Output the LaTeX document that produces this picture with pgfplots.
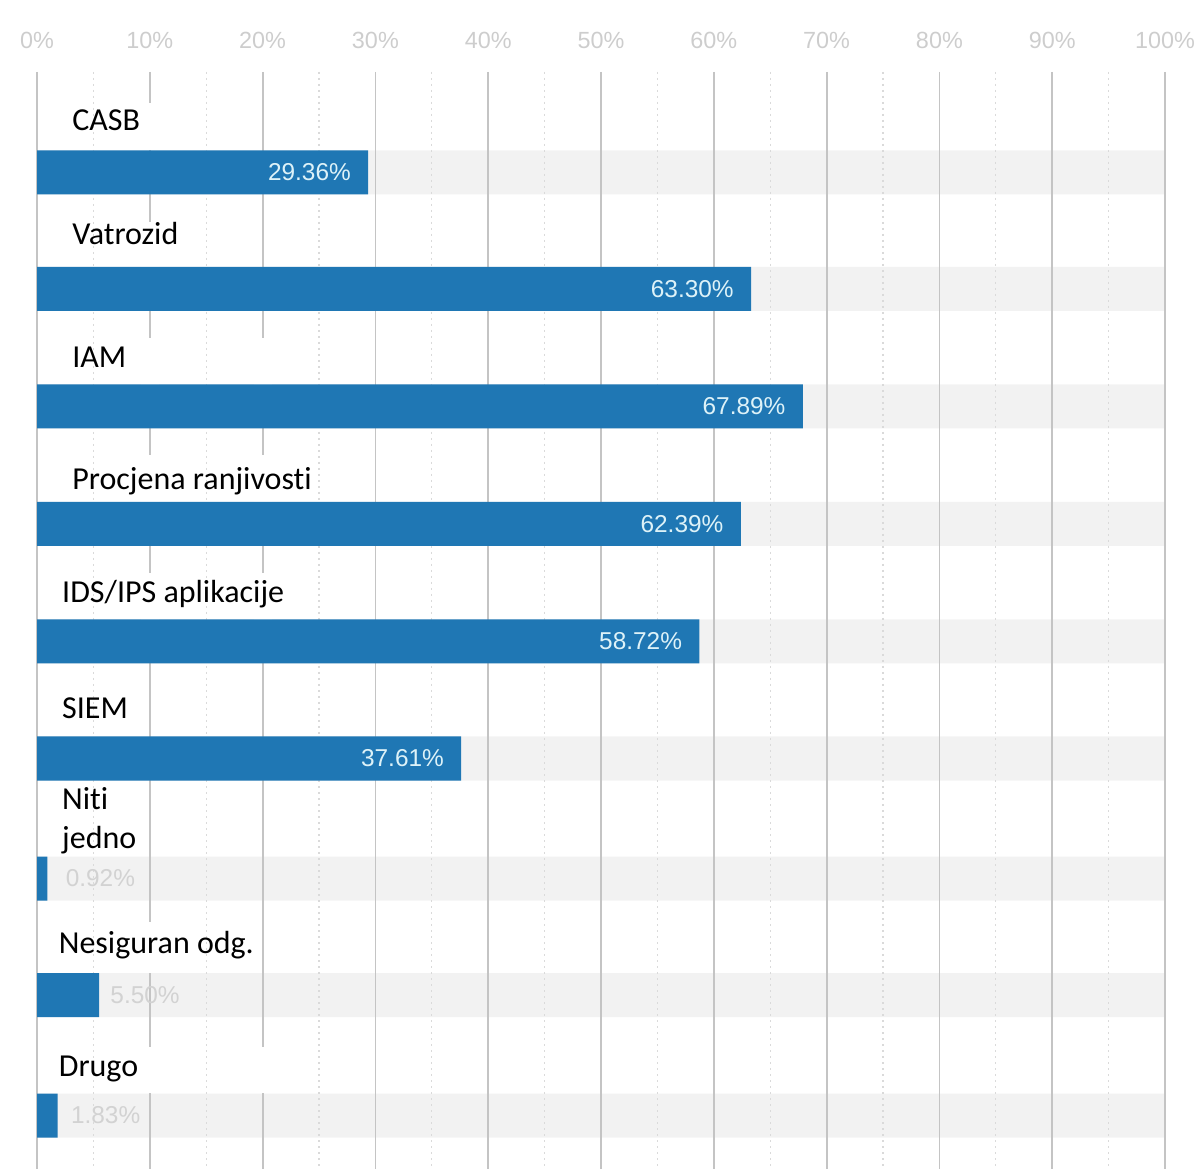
\documentclass[border=0pt]{standalone}
\usepackage{pgfplots}
\pgfplotsset{compat=1.18}
\usepackage{pgfplotstable}
\usepackage{fontspec}
\setmainfont{Carlito}[Ligatures=NoCommon]
\newfontfamily\numfont{Liberation Sans}

\definecolor{barblue}{HTML}{1F77B4}
\definecolor{track}{HTML}{F2F2F2}
\definecolor{gridgray}{HTML}{C4C4C4}
\definecolor{minorgray}{HTML}{DADADA}
\definecolor{tickgray}{HTML}{CDCDCD}
\definecolor{inlabel}{HTML}{DDF2F8}
\definecolor{outlabel}{HTML}{D2D2D2}

\tikzset{
  catlabel/.style={anchor=west, font=\fontsize{16}{19.5}\selectfont, text=black, inner sep=0pt},
  inval/.style={anchor=east, font=\numfont\fontsize{12.2}{14}\selectfont, text=inlabel, inner sep=0pt, xshift=-8.5pt},
  outval/.style={anchor=west, font=\numfont\fontsize{12.2}{14}\selectfont, text=outlabel, inner sep=0pt},
}

% y = bar centre in pixels from the top of the picture
\pgfplotstableread{
y      val
172.5  29.36
289    63.30
406.5  67.89
524    62.39
641.5  58.72
758.5  37.61
878.5  0.92
995    5.50
1115.5 1.83
}\shares

\pgfplotstableread{
y      val
172.5  100
289    100
406.5  100
524    100
641.5  100
758.5  100
878.5  100
995    100
1115.5 100
}\tracks

\begin{document}
\begin{tikzpicture}
\begin{axis}[
  set layers,
  scale only axis, width=564pt, height=548.5pt,
  xmin=0, xmax=100, ymin=72, ymax=1169, y dir=reverse,
  enlargelimits=false, clip=false,
  axis line style={draw=none},
  major tick length=0pt, minor tick length=0pt,
  xtick={0,10,...,100}, minor xtick={5,15,...,95},
  ytick=\empty,
  xticklabel pos=upper,
  xticklabel={\pgfmathprintnumber{\tick}\%},
  xticklabel style={font=\numfont\fontsize{11.7}{14}\selectfont, text=tickgray, yshift=8pt},
  /pgf/number format/assume math mode=true,
  xmajorgrids, xminorgrids,
  major grid style={draw=gridgray, line width=0.9pt},
  minor grid style={draw=minorgray, line width=0.6pt, dash pattern=on 1pt off 2pt},
  xbar, bar width=44, bar shift=0pt,
]
\addplot[fill=track, draw=none, on layer=axis background] table[x=val, y=y] {\tracks};

% white patches that break the 10% and 20% grid lines above some bars
\fill[white] (axis cs:9.2,103) rectangle (axis cs:10.8,150);
\fill[white] (axis cs:9.2,222) rectangle (axis cs:10.8,267);
\fill[white] (axis cs:9.2,338) rectangle (axis cs:10.8,385);
\fill[white] (axis cs:19.2,338) rectangle (axis cs:20.8,385);
\fill[white] (axis cs:9.2,455) rectangle (axis cs:10.8,502);
\fill[white] (axis cs:19.2,455) rectangle (axis cs:20.8,502);
\fill[white] (axis cs:9.2,573) rectangle (axis cs:10.8,620);
\fill[white] (axis cs:19.2,573) rectangle (axis cs:20.8,620);
\fill[white] (axis cs:9.2,922) rectangle (axis cs:10.8,973);
\fill[white] (axis cs:9.2,1047) rectangle (axis cs:10.8,1093);
\fill[white] (axis cs:19.2,1047) rectangle (axis cs:20.8,1093);

\addplot[fill=barblue, draw=none] table[x=val, y=y] {\shares};

\node[catlabel] at (axis cs:3.1,120) {CASB};
\node[catlabel] at (axis cs:3.1,234) {Vatrozid};
\node[catlabel] at (axis cs:3.1,357) {IAM};
\node[catlabel] at (axis cs:3.1,481) {Procjena ranjivosti};
\node[catlabel] at (axis cs:2.2,594) {IDS/IPS aplikacije};
\node[catlabel] at (axis cs:2.2,708) {SIEM};
\node[catlabel, align=left] at (axis cs:2.2,820.5) {Niti\\jedno};
\node[catlabel] at (axis cs:1.9,945) {Nesiguran odg.};
\node[catlabel] at (axis cs:1.9,1069) {Drugo};

\node[inval] at (axis cs:29.36,172.5) {29.36\%};
\node[inval] at (axis cs:63.30,289) {63.30\%};
\node[inval] at (axis cs:67.89,406.5) {67.89\%};
\node[inval] at (axis cs:62.39,524) {62.39\%};
\node[inval] at (axis cs:58.72,641.5) {58.72\%};
\node[inval] at (axis cs:37.61,758.5) {37.61\%};
\node[outval, xshift=9pt] at (axis cs:0.92,878.5) {0.92\%};
\node[outval, xshift=5.5pt] at (axis cs:5.50,995) {5.50\%};
\node[outval, xshift=6.5pt] at (axis cs:1.83,1115.5) {1.83\%};
\end{axis}
\pgfresetboundingbox
\path (-18.5pt,0pt) rectangle (581.5pt,584.5pt);
\end{tikzpicture}
\end{document}
